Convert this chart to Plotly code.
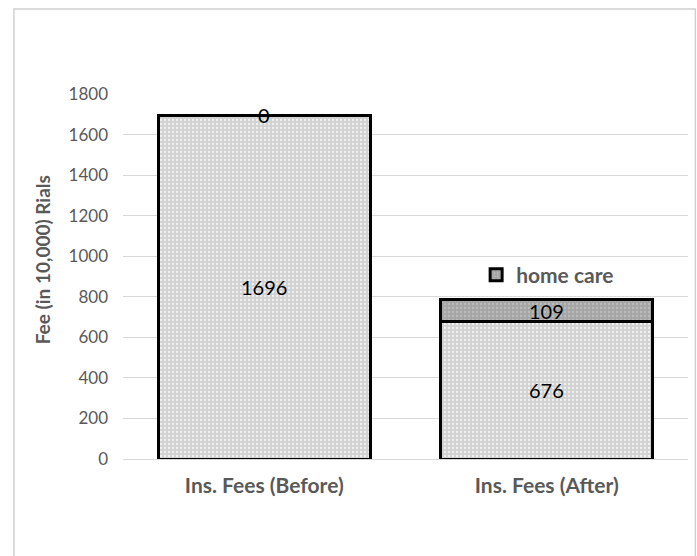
import plotly.graph_objects as go

# Chart data
categories = ["Ins. Fees (Before)", "Ins. Fees (After)"]
base_fees = [1696, 676]
home_care = [0, 109]
y_ticks = [0, 200, 400, 600, 800, 1000, 1200, 1400, 1600, 1800]

FONT = "Lato"
GRAY_TEXT = "#595959"

fig = go.Figure()

fig.add_trace(go.Bar(
    x=categories, y=base_fees, name="base",
    showlegend=False,
    marker=dict(
        color="#d6d6d6",
        line=dict(color="black", width=3),
        pattern=dict(shape=".", fgcolor="#f2f2f2", bgcolor="#d2d2d2",
                     size=4, solidity=0.25, fillmode="replace"),
    ),
    width=0.75,
))

fig.add_trace(go.Bar(
    x=categories, y=home_care, name="home care",
    showlegend=True,
    marker=dict(
        color="#a9a9a9",
        line=dict(color="black", width=3),
        pattern=dict(shape=".", fgcolor="#bdbdbd", bgcolor="#a6a6a6",
                     size=4, solidity=0.25, fillmode="replace"),
    ),
    width=0.75,
))

# Value labels centred on each segment
for cat, b, h in zip(categories, base_fees, home_care):
    fig.add_annotation(x=cat, y=b / 2, text=str(b), showarrow=False,
                       font=dict(family=FONT, size=20, color="black"))
    fig.add_annotation(x=cat, y=b + h / 2, text=str(h), showarrow=False,
                       font=dict(family=FONT, size=20, color="black"))

# Y-axis title, placed as a rotated annotation
fig.add_annotation(xref="paper", yref="paper", x=-0.143, y=0.545,
                   xanchor="center", yanchor="middle",
                   text="Fee (in 10,000) Rials", textangle=-90, showarrow=False,
                   font=dict(family=FONT, size=19, color=GRAY_TEXT, weight="bold"))

# Light outer frame around the chart area
fig.add_shape(type="rect", xref="paper", yref="paper",
              x0=-0.193, x1=1.013, y0=-0.3, y1=1.233,
              line=dict(color="#d0d0d0", width=1.5), fillcolor="rgba(0,0,0,0)",
              layer="below")

fig.update_layout(
    barmode="stack",
    width=697, height=556,
    margin=dict(l=123, r=9, t=94, b=97),
    paper_bgcolor="white",
    plot_bgcolor="white",
    font=dict(family=FONT, color=GRAY_TEXT),
    legend=dict(x=0.625, y=0.504, xanchor="left", yanchor="middle",
                bgcolor="rgba(0,0,0,0)", itemwidth=30,
                font=dict(family=FONT, size=21, color=GRAY_TEXT, weight="bold")),
    xaxis=dict(
        showgrid=False, showline=False, zeroline=False,
        tickfont=dict(family=FONT, size=21, color=GRAY_TEXT, weight="bold"),
        ticklabelstandoff=12,
    ),
    yaxis=dict(
        range=[0, 1800], tickvals=y_ticks,
        showgrid=True, gridcolor="#d9d9d9", gridwidth=1,
        zeroline=True, zerolinecolor="#d9d9d9", zerolinewidth=1,
        showline=False,
        tickfont=dict(family=FONT, size=17, color=GRAY_TEXT),
        ticklabelstandoff=14,
    ),
)

fig.write_html("out.html")
